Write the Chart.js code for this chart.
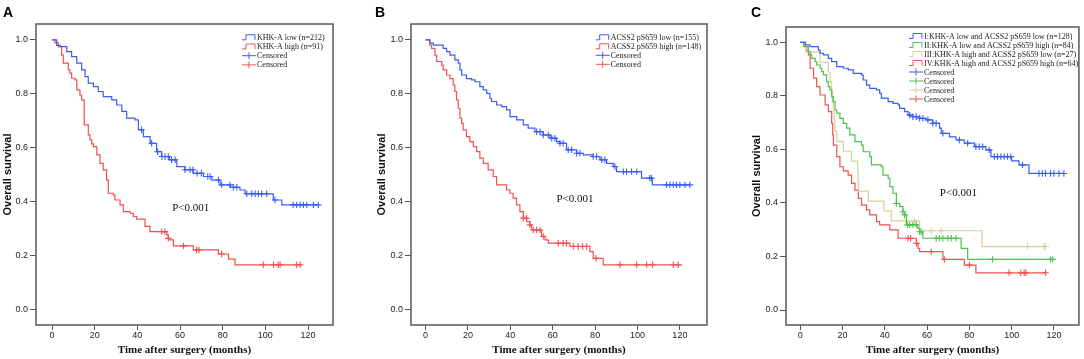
<!DOCTYPE html>
<html>
<head>
<meta charset="utf-8">
<script src="https://cdn.jsdelivr.net/npm/chart.js@4.4.0/dist/chart.umd.min.js"></script>
<style>
  body { margin: 0; background: #fff; }
  #wrap { position: relative; width: 1084px; height: 359px; }
  canvas { position: absolute; top: 0; }
</style>
</head>
<body>
<div id="wrap">
  <canvas id="chartA" width="360" height="359" style="left:0"></canvas>
  <canvas id="chartB" width="360" height="359" style="left:360px"></canvas>
  <canvas id="chartC" width="364" height="359" style="left:720px"></canvas>
</div>
<script>
// Tick labels
const xTicks = [0, 20, 40, 60, 80, 100, 120];
const yTicks = [0, 0.2, 0.4, 0.6, 0.8, 1.0];

// Panel A: KHK-A
const aLowTime = [0, 2.2, 3.8, 6.9, 9.2, 11.6, 13.9, 15.5, 17, 19.4, 21.7, 24, 28, 30.3, 32.7, 35, 38.9, 40.5, 42.8, 46, 49, 51.4, 55, 58.5, 62.3, 66.2, 71, 74.9, 78.8, 83.5, 88.1, 90.5, 103.7, 107.7, 124.8];
const aLowSurv = [1, 0.98, 0.975, 0.957, 0.938, 0.914, 0.889, 0.864, 0.84, 0.827, 0.809, 0.79, 0.778, 0.759, 0.735, 0.71, 0.704, 0.667, 0.642, 0.617, 0.586, 0.568, 0.556, 0.531, 0.519, 0.506, 0.494, 0.481, 0.463, 0.454, 0.444, 0.43, 0.407, 0.389, 0.389];
const aLowCens = [42, 46.7, 49.5, 51.5, 53, 54.5, 56, 57.7, 62.3, 64.7, 66, 68, 70, 73, 74.1, 78, 79.5, 83.4, 85, 86.6, 91.3, 93.6, 95.2, 96.7, 98.3, 100.6, 104.5, 113, 114.7, 116.3, 117.8, 119.4, 122.5, 124.8];
const aHighTime = [0, 1.4, 3, 4.5, 5.3, 7.6, 8.4, 9.2, 10.8, 11.6, 13.1, 13.9, 15.1, 17, 17.8, 18.6, 19.4, 21, 22.5, 24, 25.6, 26.4, 28.7, 29.5, 31.9, 33.4, 36.6, 38.1, 39.7, 43.6, 45.9, 53.8, 54.5, 55.3, 56.9, 66.2, 78, 82.7, 85.8, 117];
const aHighSurv = [1, 0.989, 0.975, 0.944, 0.914, 0.889, 0.877, 0.858, 0.852, 0.815, 0.795, 0.778, 0.685, 0.648, 0.63, 0.615, 0.605, 0.574, 0.543, 0.519, 0.481, 0.432, 0.426, 0.407, 0.389, 0.364, 0.358, 0.346, 0.336, 0.309, 0.29, 0.278, 0.265, 0.259, 0.237, 0.222, 0.207, 0.188, 0.167, 0.167];
const aHighCens = [51.4, 52.9, 54.5, 61.6, 67.8, 68.9, 79.5, 99, 103.8, 106, 106.9, 114.7, 116.3];

// Panel B: ACSS2 pS659
const bLowTime = [0, 2, 3.6, 8.3, 9.9, 11.5, 13.8, 15.4, 16.2, 17, 19.3, 21.7, 23.3, 25.6, 27.2, 28.8, 30.3, 31.1, 33.5, 35.9, 38.2, 39.8, 43, 46.1, 48.4, 51.6, 55.5, 58.7, 61.8, 63.4, 66.5, 71.3, 74.4, 79.1, 82.3, 85.4, 88.5, 90.1, 101.9, 107, 124.7];
const bLowSurv = [1, 0.988, 0.981, 0.969, 0.957, 0.944, 0.926, 0.914, 0.889, 0.87, 0.857, 0.852, 0.845, 0.827, 0.815, 0.802, 0.784, 0.772, 0.759, 0.753, 0.741, 0.716, 0.704, 0.685, 0.673, 0.66, 0.648, 0.636, 0.623, 0.617, 0.593, 0.58, 0.574, 0.568, 0.556, 0.543, 0.531, 0.512, 0.488, 0.463, 0.463];
const bLowCens = [52.4, 54, 55.5, 57.9, 59.5, 61, 63.4, 64.9, 67.3, 68.9, 71.3, 72.8, 79.1, 80.7, 83.1, 84.6, 89.3, 93.3, 94.8, 97.2, 99.6, 105.8, 106.5, 113.7, 115.3, 116.9, 118.4, 120, 122.4, 124.7];
const bHighTime = [0, 2, 2.8, 4.4, 5.2, 7.6, 8.3, 9.9, 11.5, 13, 13.8, 14.6, 15.4, 16.2, 17, 17.7, 19.3, 20.9, 22.5, 24.1, 25.6, 27.2, 29.5, 31.9, 33.5, 38.2, 39.8, 41.3, 42.9, 44.5, 46.1, 47.7, 49.2, 50, 54.7, 56.3, 57.9, 68.1, 77.5, 79.1, 83.8, 120.8];
const bHighSurv = [1, 0.981, 0.969, 0.944, 0.92, 0.907, 0.889, 0.87, 0.857, 0.833, 0.809, 0.778, 0.747, 0.71, 0.691, 0.667, 0.642, 0.623, 0.605, 0.586, 0.562, 0.543, 0.519, 0.494, 0.463, 0.444, 0.432, 0.414, 0.389, 0.364, 0.34, 0.327, 0.315, 0.296, 0.272, 0.259, 0.247, 0.235, 0.216, 0.191, 0.167, 0.167];
const bHighCens = [46.1, 47.6, 49.2, 50.8, 52.4, 54, 55.5, 62.6, 64.9, 66.5, 69.7, 72, 74.1, 76, 80.4, 91.7, 99.6, 104.3, 107.1, 116.9, 119.2];

// Panel C: combined groups
const c1Time = [0, 2.4, 4.7, 8.6, 9.4, 11, 13.3, 14.9, 17.3, 20.4, 22.7, 25.1, 29, 29.8, 31.4, 32.9, 36.1, 37.6, 38.4, 41.6, 43.9, 46.3, 47, 49.4, 51, 53.3, 56.5, 59.6, 62.7, 65.9, 66.7, 70.6, 73.7, 77.6, 82.4, 87.8, 90.2, 100, 103.5, 108.2, 124.7];
const c1Surv = [1, 0.99, 0.984, 0.971, 0.959, 0.953, 0.94, 0.928, 0.909, 0.903, 0.897, 0.884, 0.878, 0.859, 0.84, 0.828, 0.822, 0.809, 0.791, 0.778, 0.772, 0.766, 0.753, 0.741, 0.728, 0.722, 0.716, 0.71, 0.697, 0.679, 0.66, 0.647, 0.635, 0.623, 0.61, 0.598, 0.573, 0.557, 0.542, 0.51, 0.51];
const c1Cens = [51.8, 53.3, 54.9, 56.5, 58, 60.4, 62.7, 64.3, 67.5, 75.3, 79.2, 83.1, 84.7, 86.3, 89.4, 91.8, 93.3, 94.9, 96.5, 98, 99.6, 105.1, 112.9, 114.5, 116, 118.4, 120, 122.4, 124.7];
const c2Time = [0, 1.6, 3.9, 4.7, 5.5, 7.1, 7.8, 9.4, 10.2, 11, 12.5, 13.3, 14.1, 14.9, 15.7, 16.5, 17.3, 18.8, 20.4, 22, 23.5, 25.9, 29, 29.8, 32.9, 33.7, 38.4, 39.2, 41.6, 42.4, 43.9, 45.5, 47.1, 48.6, 49.4, 50.2, 55.7, 56.5, 58, 76.1, 79.2, 119.4];
const c2Surv = [1, 0.984, 0.965, 0.953, 0.94, 0.928, 0.915, 0.903, 0.89, 0.878, 0.853, 0.834, 0.822, 0.797, 0.778, 0.747, 0.735, 0.716, 0.697, 0.679, 0.654, 0.629, 0.616, 0.591, 0.573, 0.542, 0.535, 0.504, 0.492, 0.461, 0.436, 0.398, 0.386, 0.367, 0.355, 0.318, 0.305, 0.292, 0.268, 0.23, 0.189, 0.189];
const c2Cens = [45.5, 48.6, 49.4, 50.8, 51.8, 53.3, 54.9, 56.5, 57.3, 64.3, 65.9, 67.5, 69.8, 71.4, 73.7, 91, 118.4, 119.4];
const c3Time = [0, 2.8, 9.4, 13.3, 14.1, 14.9, 15.3, 15.7, 16.1, 16.5, 17.3, 20.4, 24.3, 27.2, 27.4, 27.6, 32.2, 39.6, 43.1, 56.5, 86, 116.1];
const c3Surv = [1, 0.963, 0.926, 0.889, 0.852, 0.815, 0.778, 0.741, 0.704, 0.667, 0.63, 0.593, 0.556, 0.519, 0.481, 0.444, 0.407, 0.37, 0.333, 0.296, 0.237, 0.237];
const c3Cens = [54.1, 62, 66.7, 107.5, 115.3, 116.1];
const c4Time = [0, 2.4, 3.1, 3.9, 4.7, 6.3, 7.8, 9.4, 11.8, 13.3, 14.9, 15.4, 15.7, 17.3, 18.8, 20.4, 22.7, 24.3, 25.9, 27.5, 29, 31.4, 32.9, 36.1, 37.6, 42.4, 46.3, 54.9, 55.7, 56.5, 67.5, 77.6, 83.1, 116.1];
const c4Surv = [1, 0.984, 0.969, 0.953, 0.903, 0.866, 0.834, 0.803, 0.766, 0.741, 0.697, 0.654, 0.616, 0.573, 0.535, 0.52, 0.504, 0.473, 0.448, 0.417, 0.392, 0.374, 0.355, 0.33, 0.318, 0.299, 0.268, 0.249, 0.23, 0.218, 0.189, 0.168, 0.139, 0.139];
const c4Cens = [51, 52.2, 55, 62, 68.2, 80, 98.8, 104.3, 105.9, 106.7, 116.1];

// Colours
const BLUE = "#3a5cf5";
const RED = "#f0504f";
const GREEN = "#4fbf4f";
const BEIGE = "#d8cf9c";

const SANS = '"Liberation Sans", Arial, sans-serif';
const SERIF = '"Liberation Serif", "Times New Roman", serif';

// value of a step curve at time t
const survivalAt = (times, surv, t) => {
    let s = surv[0];
    times.forEach((tt, i) => {
        if (tt <= t) s = surv[i];
    });
    return s;
};

const curveSet = (label, color, times, surv) => ({
    type: "line",
    label,
    data: times.map((t, i) => ({ x: t, y: surv[i] })),
    borderColor: color,
    borderWidth: 1.2,
    stepped: true,
    pointRadius: 0,
    fill: false,
});

const censorSet = (color, times, surv, cens) => ({
    type: "scatter",
    label: "Censored",
    data: cens.map((t) => ({ x: t, y: survivalAt(times, surv, t) })),
    borderColor: color,
    backgroundColor: color,
    pointStyle: "cross",
    pointRadius: 3.2,
    borderWidth: 1.1,
});

// frame, panel letter, p value and legend
const kmExtras = {
    id: "kmExtras",
    afterDraw(chart, args, opts) {
        const { ctx, chartArea: a, scales } = chart;
        ctx.save();
        ctx.strokeStyle = "#626262";
        ctx.lineWidth = 1.6;
        ctx.strokeRect(a.left, a.top, a.right - a.left, a.bottom - a.top);

        ctx.fillStyle = "#000";
        ctx.font = "bold 14px " + SANS;
        ctx.textAlign = "left";
        ctx.textBaseline = "alphabetic";
        ctx.fillText(opts.letter, opts.letterX, 16.5);

        ctx.font = "11px " + SERIF;
        ctx.fillStyle = "#111";
        ctx.textAlign = "center";
        ctx.textBaseline = "middle";
        ctx.fillText("P<0.001", scales.x.getPixelForValue(opts.pAt[0]), scales.y.getPixelForValue(opts.pAt[1]));

        ctx.font = "8px " + SERIF;
        ctx.textAlign = "left";
        chart.data.datasets.forEach((ds, i) => {
            const yy = opts.legendY + i * opts.rowH;
            const x0 = opts.legendX - 15;
            ctx.strokeStyle = ds.borderColor;
            ctx.lineWidth = 1;
            ctx.beginPath();
            if (ds.type === "line") {
                ctx.moveTo(x0, yy + 2.5);
                ctx.lineTo(x0 + 4, yy + 2.5);
                ctx.lineTo(x0 + 4, yy - 2.5);
                ctx.lineTo(x0 + 13, yy - 2.5);
                ctx.lineTo(x0 + 13, yy + 2.5);
            } else {
                ctx.moveTo(x0, yy);
                ctx.lineTo(x0 + 14, yy);
                ctx.moveTo(x0 + 7, yy - 3.5);
                ctx.lineTo(x0 + 7, yy + 3.5);
            }
            ctx.stroke();
            ctx.fillStyle = "#222";
            ctx.fillText(ds.label, opts.legendX, yy + 0.5);
        });
        ctx.restore();
    },
};

const makeChart = (id, datasets, cfg) => {
    new Chart(document.getElementById(id), {
        type: "line",
        data: { datasets },
        options: {
            responsive: false,
            animation: false,
            events: [],
            layout: { padding: { left: 0, top: cfg.top, right: cfg.right, bottom: 0 } },
            scales: {
                x: {
                    type: "linear",
                    min: cfg.xMin,
                    max: cfg.xMax,
                    afterBuildTicks: (s) => { s.ticks = xTicks.map((v) => ({ value: v })); },
                    afterFit: (s) => { s.height = 34; },
                    grid: { drawOnChartArea: false, tickLength: 5, color: "#555" },
                    border: { display: false },
                    ticks: { padding: 0, maxRotation: 0, color: "#222", font: { family: SANS, size: 9 } },
                    title: {
                        display: true,
                        text: "Time after surgery (months)",
                        color: "#111",
                        font: { family: SERIF, size: 11, weight: "bold" },
                        padding: { top: 0, bottom: 2 },
                    },
                },
                y: {
                    type: "linear",
                    min: -0.056,
                    max: cfg.yMax,
                    afterBuildTicks: (s) => { s.ticks = yTicks.map((v) => ({ value: v })); },
                    afterFit: (s) => { s.width = cfg.yWidth; },
                    grid: { drawOnChartArea: false, tickLength: 6, color: "#555" },
                    border: { display: false },
                    ticks: {
                        padding: 2,
                        color: "#222",
                        font: { family: SANS, size: 9 },
                        callback: (v) => v.toFixed(1),
                    },
                    title: {
                        display: true,
                        text: "Overall survival",
                        color: "#111",
                        font: { family: SANS, size: 11, weight: "bold" },
                        padding: { top: cfg.yTitlePad, bottom: 0 },
                    },
                },
            },
            plugins: {
                legend: { display: false },
                tooltip: { enabled: false },
                kmExtras: cfg.extras,
            },
        },
        plugins: [kmExtras],
    });
};

makeChart("chartA", [
    curveSet("KHK-A low (n=212)", BLUE, aLowTime, aLowSurv),
    curveSet("KHK-A high (n=91)", RED, aHighTime, aHighSurv),
    censorSet(BLUE, aLowTime, aLowSurv, aLowCens),
    censorSet(RED, aHighTime, aHighSurv, aHighCens),
], {
    top: 24, right: 27, yWidth: 36, yTitlePad: 1, xMin: -7.5, xMax: 131.7, yMax: 1.059,
    extras: { letter: "A", letterX: 3, pAt: [65, 0.378], legendX: 257, legendY: 37.3, rowH: 9.2 },
});

makeChart("chartB", [
    curveSet("ACSS2 pS659 low (n=155)", BLUE, bLowTime, bLowSurv),
    curveSet("ACSS2 pS659 high (n=148)", RED, bHighTime, bHighSurv),
    censorSet(BLUE, bLowTime, bLowSurv, bLowCens),
    censorSet(RED, bHighTime, bHighSurv, bHighCens),
], {
    top: 24, right: 13, yWidth: 51, yTitlePad: 15, xMin: -6.9, xMax: 132.8, yMax: 1.059,
    extras: { letter: "B", letterX: 15, pAt: [70.5, 0.411], legendX: 250.7, legendY: 37.3, rowH: 9 },
});

makeChart("chartC", [
    curveSet("I:KHK-A low and ACSS2 pS659 low (n=128)", BLUE, c1Time, c1Surv),
    curveSet("II:KHK-A low and ACSS2 pS659 high (n=84)", GREEN, c2Time, c2Surv),
    curveSet("III:KHK-A high and ACSS2 pS659 low (n=27)", BEIGE, c3Time, c3Surv),
    curveSet("IV:KHK-A high and ACSS2 pS659 high (n=64)", RED, c4Time, c4Surv),
    censorSet(BLUE, c1Time, c1Surv, c1Cens),
    censorSet(GREEN, c2Time, c2Surv, c2Cens),
    censorSet(BEIGE, c3Time, c3Surv, c3Cens),
    censorSet(RED, c4Time, c4Surv, c4Cens),
], {
    top: 27, right: 4, yWidth: 66, yTitlePad: 30, xMin: -6.7, xMax: 131.8, yMax: 1.057,
    extras: { letter: "C", letterX: 31, pAt: [74.8, 0.438], legendX: 204, legendY: 36, rowH: 9 },
});
</script>
</body>
</html>
